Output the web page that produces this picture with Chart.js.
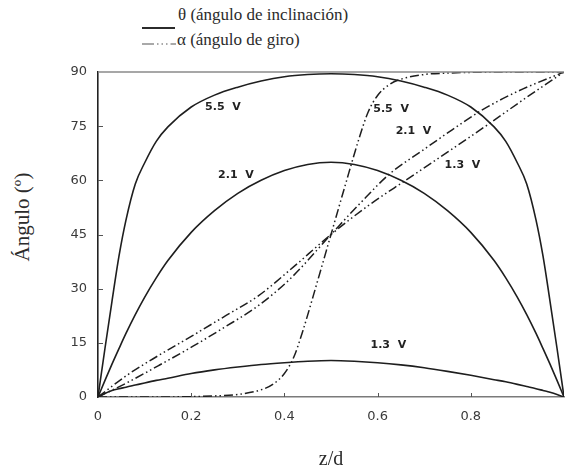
<!DOCTYPE html>
<html lang="es">
<head>
  <meta charset="UTF-8">
  <title>Ángulo frente a z/d</title>
  <style>
    html, body {
      margin: 0;
      padding: 0;
      background: #ffffff;
      overflow: hidden;
    }
    body {
      width: 570px;
      height: 472px;
      position: relative;
    }
    #wrap {
      position: absolute;
      left: 0;
      top: 0;
      width: 576px;
      height: 472px;
    }
    .leg {
      position: absolute;
      font-family: "Liberation Serif", "DejaVu Serif", serif;
      font-size: 17px;
      line-height: 20px;
      color: #2b2b2b;
      white-space: nowrap;
    }
    .sample {
      position: absolute;
    }
    #ytitle {
      position: absolute;
      left: 22px;
      top: 217px;
      transform: translate(-50%, -50%) rotate(-90deg);
      font-family: "Liberation Serif", "DejaVu Serif", serif;
      font-size: 21px;
      color: #2b2b2b;
      white-space: nowrap;
    }
  </style>
</head>
<body>
  <!-- leyenda -->
  <svg class="sample" style="left:142px; top:26px" width="34" height="4">
    <line x1="0" y1="2" x2="33" y2="2" stroke="#2b2b2b" stroke-width="2"/>
  </svg>
  <div class="leg" style="left:178px; top:5px">θ (ángulo de inclinación)</div>
  <svg class="sample" style="left:142px; top:42px" width="34" height="4">
    <line x1="0" y1="2" x2="34" y2="2" stroke="#555" stroke-width="1.2" stroke-dasharray="12 3 1.5 3 1.5 3 1.5 3"/>
  </svg>
  <div class="leg" style="left:177px; top:30px">α (ángulo de giro)</div>
  <div id="ytitle">Ángulo (º)</div>

  <div id="wrap"><canvas id="chart" width="576" height="472"></canvas></div>

  <script src="https://cdn.jsdelivr.net/npm/chart.js"></script>
  <script>
    // eje x comun para las curvas de inclinacion
    const zGrid = [0, 0.015, 0.03, 0.045, 0.06, 0.08, 0.1, 0.125, 0.15, 0.2, 0.25, 0.3, 0.35, 0.4, 0.45, 0.5,
                   0.55, 0.6, 0.65, 0.7, 0.75, 0.8, 0.85, 0.875, 0.9, 0.92, 0.94, 0.955, 0.97, 0.985, 1];
    // theta (angulo de inclinacion)
    const theta13 = [0, 1, 1.8, 2.3, 2.7, 3.3, 3.9, 4.6, 5.2, 6.5, 7.5, 8.3, 9, 9.5, 9.9, 10.1,
                     9.9, 9.5, 8.9, 8.1, 7.1, 6, 4.8, 4.2, 3.5, 2.9, 2.3, 1.8, 1.3, 0.7, 0];
    const theta21 = [0, 4.6, 9.1, 13.4, 17.6, 22.8, 27.6, 33, 37.8, 45.6, 51.6, 56.4, 60, 62.7, 64.4, 65,
                     64.4, 62.7, 60, 56.4, 51.6, 45.6, 37.8, 33, 27.6, 22.8, 17.6, 13.4, 9.1, 4.6, 0];
    const theta55 = [0, 13.5, 26.5, 39, 49, 59, 64.8, 70.8, 74.8, 80.3, 83.6, 85.8, 87.5, 88.7, 89.3, 89.5,
                     89.3, 88.7, 87.5, 85.8, 83.6, 80.3, 74.8, 70.8, 64.8, 59, 49, 39, 26.5, 13.5, 0];
    // alfa (angulo de giro)
    const alpha13X = [0, 0.063, 0.13, 0.203, 0.27, 0.344, 0.413, 0.5, 0.58, 0.66, 0.75, 0.843, 0.92, 1];
    const alpha13  = [0, 6.1, 11.5, 17, 22.2, 28, 35.3, 45, 53, 60, 67.8, 76, 83, 90];
    const alpha21X = [0, 0.063, 0.13, 0.203, 0.27, 0.344, 0.413, 0.5, 0.56, 0.626, 0.7, 0.76, 0.822, 0.9, 1];
    const alpha21  = [0, 4, 8.7, 14, 19.2, 25.3, 32.8, 45, 53.3, 61.8, 68.6, 74, 79.3, 84.6, 90];
    const alpha55X = [0, 0.1, 0.2, 0.25, 0.3, 0.35, 0.375, 0.4, 0.42, 0.44, 0.47, 0.5,
                      0.53, 0.56, 0.58, 0.6, 0.625, 0.65, 0.7, 0.75, 0.8, 0.9, 1];
    const alpha55  = [0, 0, 0.1, 0.3, 0.7, 2, 3.5, 6.5, 11, 18.5, 31.6, 45,
                      58.4, 71.5, 79, 83.5, 86.5, 88, 89.3, 89.7, 89.9, 90, 90];

    const xTicks = [0, 0.2, 0.4, 0.6, 0.8, 1];
    const yTicks = [0, 15, 30, 45, 60, 75, 90];

    // rotulos de las curvas (texto y punto de anclaje en unidades de datos)
    const curveLabels = [
      { text: '5.5  V', x: 0.268, y: 80.3 },
      { text: '2.1  V', x: 0.296, y: 61.5 },
      { text: '1.3  V', x: 0.623, y: 14.4 },
      { text: '5.5  V', x: 0.629, y: 79.8 },
      { text: '2.1  V', x: 0.677, y: 73.7 },
      { text: '1.3  V', x: 0.782, y: 64.2 }
    ];

    function pts(xs, ys) {
      return xs.map(function(x, i) { return { x: x, y: ys[i] }; });
    }

    const dashDot = [9, 3, 1.5, 3, 1.5, 3];
    function curve(data, dashed) {
      return {
        data: data,
        borderColor: '#1e1e1e',
        borderWidth: dashed ? 1.5 : 1.6,
        borderDash: dashed ? dashDot : [],
        pointRadius: 0,
        fill: false,
        cubicInterpolationMode: 'monotone'
      };
    }

    // marcas hacia dentro, borde superior y rotulos
    const decor = {
      id: 'decor',
      afterDatasetsDraw: function(chart) {
        const ctx = chart.ctx;
        const a = chart.chartArea;
        const sx = chart.scales.x, sy = chart.scales.y;
        ctx.save();
        ctx.strokeStyle = '#8a8a8a';
        ctx.lineWidth = 1.3;
        ctx.beginPath();
        ctx.moveTo(a.left, a.top);
        ctx.lineTo(a.right, a.top);
        ctx.stroke();

        ctx.strokeStyle = '#555';
        ctx.lineWidth = 1;
        ctx.beginPath();
        yTicks.slice(1, -1).forEach(function(v) {
          const py = Math.round(sy.getPixelForValue(v)) + 0.5;
          ctx.moveTo(a.left, py);
          ctx.lineTo(a.left + 5, py);
        });
        xTicks.slice(1, -1).forEach(function(v) {
          const px = Math.round(sx.getPixelForValue(v)) + 0.5;
          ctx.moveTo(px, a.bottom);
          ctx.lineTo(px, a.bottom - 4);
        });
        ctx.stroke();

        ctx.font = 'bold 11px "DejaVu Sans"';
        ctx.fillStyle = '#222';
        ctx.textAlign = 'center';
        ctx.textBaseline = 'middle';
        curveLabels.forEach(function(l) {
          ctx.fillText(l.text, sx.getPixelForValue(l.x), sy.getPixelForValue(l.y));
        });
        ctx.restore();
      }
    };

    new Chart(document.getElementById('chart'), {
      type: 'line',
      data: {
        datasets: [
          curve(pts(zGrid, theta13), false),
          curve(pts(zGrid, theta21), false),
          curve(pts(zGrid, theta55), false),
          curve(pts(alpha13X, alpha13), true),
          curve(pts(alpha21X, alpha21), true),
          curve(pts(alpha55X, alpha55), true)
        ]
      },
      options: {
        responsive: false,
        animation: false,
        devicePixelRatio: 1,
        layout: { padding: { top: 72, right: 1, bottom: 0, left: 0 } },
        plugins: {
          legend: { display: false },
          tooltip: { enabled: false }
        },
        scales: {
          x: {
            type: 'linear',
            min: 0,
            max: 1,
            afterFit: function(s) { s.height = 75; },
            afterBuildTicks: function(s) { s.ticks = xTicks.map(function(v) { return { value: v }; }); },
            grid: { display: false, drawTicks: false },
            border: { display: true, color: '#7a7a7a', width: 1.5 },
            ticks: {
              padding: 12,
              color: '#3a3a3a',
              font: { family: 'DejaVu Sans', size: 13 },
              maxRotation: 0,
              callback: function(v) { return v === 1 ? '' : String(Math.round(v * 10) / 10); }
            },
            title: {
              display: true,
              text: 'z/d',
              color: '#2b2b2b',
              font: { family: 'Liberation Serif', size: 20 },
              padding: { top: 0, bottom: 0 }
            }
          },
          y: {
            min: 0,
            max: 90,
            afterFit: function(s) { s.width = 98; },
            afterBuildTicks: function(s) { s.ticks = yTicks.map(function(v) { return { value: v }; }); },
            grid: { display: false, drawTicks: false },
            border: { display: true, color: '#222', width: 1.6 },
            ticks: {
              padding: 11,
              color: '#3a3a3a',
              font: { family: 'DejaVu Sans', size: 13 }
            }
          }
        }
      },
      plugins: [decor]
    });
  </script>
</body>
</html>
